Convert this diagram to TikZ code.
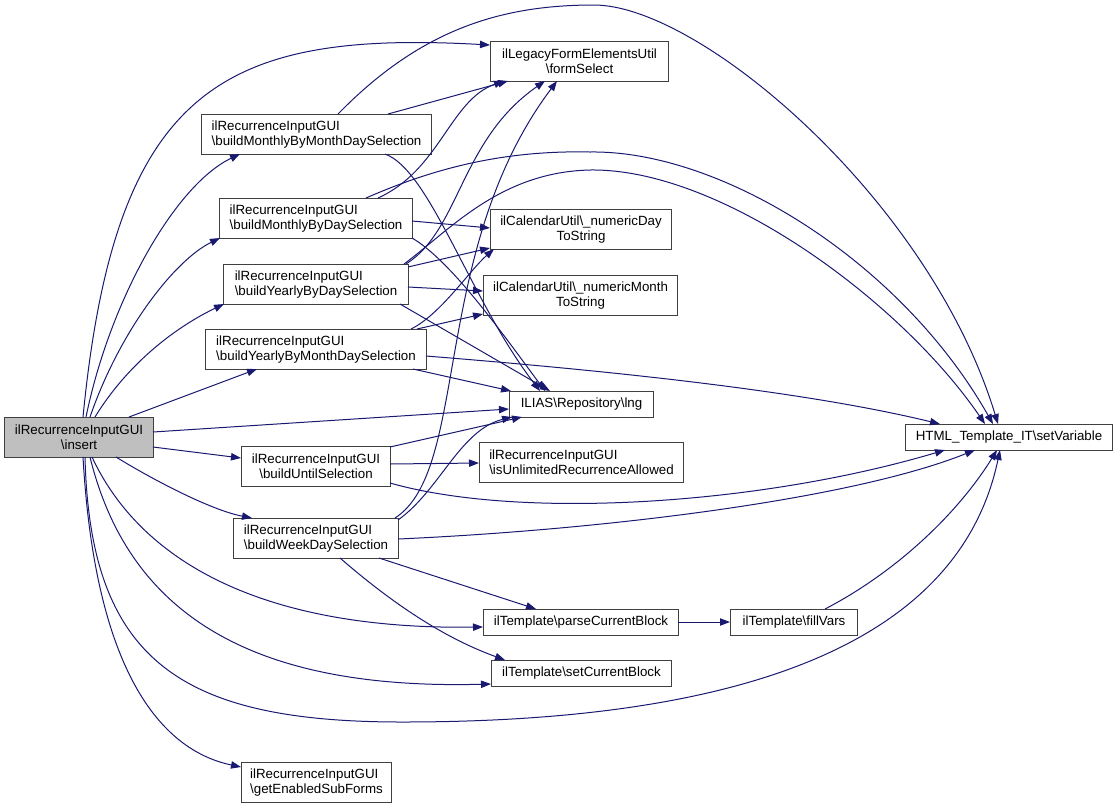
\documentclass[tikz,border=0pt]{standalone}
\usepackage{fontspec}
\setmainfont{Liberation Sans}
\usetikzlibrary{arrows.meta,calc}
\definecolor{edgec}{HTML}{191970}
\definecolor{nodeb}{HTML}{404040}
\definecolor{gfill}{HTML}{BFBFBF}
\tikzset{
 box/.style={draw=nodeb, line width=0.8pt, anchor=north west, inner sep=0pt, font=\fontsize{10}{11.25}\selectfont, fill=white},
 lbox/.style={box, align=left},
 cbox/.style={box, align=center},
 edge/.style={draw=edgec, line width=0.75pt, -{Triangle[length=7.5pt,width=5.5pt]}},
}
\newcommand{\bs}{\textbackslash}
\begin{document}
\begin{tikzpicture}[x=0.75pt,y=-0.75pt]
\useasboundingbox (0,0) rectangle (1117,808);
% nodes
\node[cbox, fill=gfill, minimum width=111.75pt, minimum height=30pt] (insert) at (4,417) {ilRecurrenceInputGUI\\\bs insert};
\node[cbox, minimum width=133.5pt, minimum height=30pt] (formSelect) at (490,41) {ilLegacyFormElementsUtil\\\bs formSelect};
\node[lbox, minimum width=172.5pt, minimum height=30pt] (mmd) at (201,114) {ilRecurrenceInputGUI\\\bs buildMonthlyByMonthDaySelection};
\node[lbox, minimum width=144.75pt, minimum height=30pt] (md) at (219,198) {ilRecurrenceInputGUI\\\bs buildMonthlyByDaySelection};
\node[cbox, minimum width=135.75pt, minimum height=30pt] (numDay) at (490,209) {ilCalendarUtil\bs\_numericDay\\ToString};
\node[lbox, minimum width=138.75pt, minimum height=30pt] (yd) at (223,264) {ilRecurrenceInputGUI\\\bs buildYearlyByDaySelection};
\node[cbox, minimum width=145.5pt, minimum height=30pt] (numMonth) at (483,275) {ilCalendarUtil\bs\_numericMonth\\ToString};
\node[lbox, minimum width=165.75pt, minimum height=30pt] (ymd) at (205,329) {ilRecurrenceInputGUI\\\bs buildYearlyByMonthDaySelection};
\node[cbox, minimum width=108pt, minimum height=19.5pt] (lng) at (509,391) {ILIAS\bs Repository\bs lng};
\node[cbox, minimum width=155.25pt, minimum height=19.5pt] (setVar) at (905,424) {HTML\_Template\_IT\bs setVariable};
\node[lbox, minimum width=153pt, minimum height=30pt] (isUnl) at (479,442) {ilRecurrenceInputGUI\\\bs isUnlimitedRecurrenceAllowed};
\node[cbox, minimum width=111.75pt, minimum height=30pt] (until) at (241,446) {ilRecurrenceInputGUI\\\bs buildUntilSelection};
\node[lbox, minimum width=123.75pt, minimum height=30pt] (week) at (233,518) {ilRecurrenceInputGUI\\\bs buildWeekDaySelection};
\node[cbox, minimum width=146.25pt, minimum height=19.5pt] (parse) at (483,609) {ilTemplate\bs parseCurrentBlock};
\node[cbox, minimum width=95.25pt, minimum height=19.5pt] (fillVars) at (730,609) {ilTemplate\bs fillVars};
\node[cbox, minimum width=135pt, minimum height=19.5pt] (setCur) at (491,660) {ilTemplate\bs setCurrentBlock};
\node[lbox, minimum width=112.5pt, minimum height=30pt] (getEn) at (241,762) {ilRecurrenceInputGUI\\\bs getEnabledSubForms};
% edges from insert
\draw[edge] ($(insert.north west)+(79,0)$) .. controls (115,90) and (220,30) .. ($(formSelect.north west)+(0,4)$);
\draw[edge] ($(insert.north west)+(82,0)$) .. controls (110,300) and (175,185) .. ($(mmd.north west)+(39,40)$);
\draw[edge] ($(insert.north west)+(86,0)$) .. controls (120,330) and (175,260) .. ($(md.north west)+(1,40)$);
\draw[edge] ($(insert.north west)+(91,0)$) .. controls (130,360) and (180,325) .. ($(yd.north west)+(1,40)$);
\draw[edge] ($(insert.north west)+(125,0)$) -- ($(ymd.north west)+(52,40)$);
\draw[edge] ($(insert.north west)+(149,15)$) -- ($(lng.north west)+(0,18)$);
\draw[edge] ($(insert.north west)+(149,30)$) -- ($(until.north west)+(0,12)$);
\draw[edge] ($(insert.north west)+(112,40)$) .. controls (150,478) and (210,510) .. ($(week.north west)+(19,0)$);
\draw[edge] ($(insert.north west)+(88,40)$) .. controls (140,560) and (260,630) .. ($(parse.north west)+(0,18)$);
\draw[edge] ($(insert.north west)+(86,40)$) .. controls (130,620) and (260,690) .. ($(setCur.north west)+(0,24)$);
\draw[edge] ($(insert.north west)+(81,40)$) .. controls (90,660) and (180,722) .. (402,722) .. controls (750,722) and (960,640) .. ($(setVar.north west)+(95,26)$);
\draw[edge] ($(insert.north west)+(79,40)$) .. controls (95,670) and (160,750) .. ($(getEn.north west)+(0,5)$);
% from mmd
\draw[edge] ($(mmd.north west)+(187,0)$) -- ($(formSelect.north west)+(18,40)$);
\draw[edge] ($(mmd.north west)+(137,0)$) .. controls (420,30) and (500,5) .. (594,5) .. controls (700,5) and (930,200) .. ($(setVar.north west)+(93,0)$);
\draw[edge] ($(mmd.north west)+(184,40)$) .. controls (430,170) and (470,300) .. ($(lng.north west)+(31,0)$);
% from md
\draw[edge] ($(md.north west)+(159,0)$) .. controls (440,170) and (450,100) .. ($(formSelect.north west)+(14,40)$);
\draw[edge] ($(md.north west)+(147,0)$) .. controls (430,170) and (500,150) .. (590,152) .. controls (720,150) and (900,260) .. ($(setVar.north west)+(88,0)$);
\draw[edge] ($(md.north west)+(193,23)$) -- ($(numDay.north west)+(0,19)$);
\draw[edge] ($(md.north west)+(193,40)$) .. controls (450,260) and (500,330) .. ($(lng.north west)+(36,0)$);
% from yd
\draw[edge] ($(yd.north west)+(183,0)$) .. controls (460,230) and (460,140) .. ($(formSelect.north west)+(55,40)$);
\draw[edge] ($(yd.north west)+(181,0)$) .. controls (450,230) and (500,172) .. (590,170) .. controls (720,168) and (900,300) .. ($(setVar.north west)+(80,0)$);
\draw[edge] ($(yd.north west)+(185,3)$) -- ($(numDay.north west)+(0,39)$);
\draw[edge] ($(yd.north west)+(185,23)$) -- ($(numMonth.north west)+(0,16)$);
\draw[edge] ($(yd.north west)+(177,40)$) -- ($(lng.north west)+(41,0)$);
% from ymd
\draw[edge] ($(ymd.north west)+(206,0)$) .. controls (440,315) and (470,270) .. ($(numDay.north west)+(4,40)$);
\draw[edge] ($(ymd.north west)+(212,0)$) -- ($(numMonth.north west)+(0,39)$);
\draw[edge] ($(ymd.north west)+(208,40)$) -- ($(lng.north west)+(2,0)$);
\draw[edge] ($(ymd.north west)+(221,27)$) .. controls (600,370) and (800,390) .. ($(setVar.north west)+(35,0)$);
% from until
\draw[edge] ($(until.north west)+(149,1)$) -- ($(lng.north west)+(13,26)$);
\draw[edge] ($(until.north west)+(149,18)$) -- ($(isUnl.north west)+(0,21)$);
\draw[edge] ($(until.north west)+(149,37)$) .. controls (520,520) and (760,505) .. ($(setVar.north west)+(40,26)$);
% from week
\draw[edge] ($(week.north west)+(162,0)$) .. controls (470,470) and (430,250) .. ($(formSelect.north west)+(67,40)$);
\draw[edge] ($(week.north west)+(165,2)$) .. controls (440,490) and (460,430) .. ($(lng.north west)+(3,26)$);
\draw[edge] ($(week.north west)+(165,21)$) .. controls (600,530) and (850,500) .. ($(setVar.north west)+(70,26)$);
\draw[edge] ($(week.north west)+(146,40)$) -- ($(parse.north west)+(53,0)$);
\draw[edge] ($(week.north west)+(107,40)$) .. controls (400,610) and (450,640) .. ($(setCur.north west)+(14,0)$);
% others
\draw[edge] ($(parse.north west)+(195,13)$) -- ($(fillVars.north west)+(0,13)$);
\draw[edge] ($(fillVars.north west)+(95,0)$) .. controls (900,570) and (960,510) .. ($(setVar.north west)+(92,26)$);
\end{tikzpicture}
\end{document}
